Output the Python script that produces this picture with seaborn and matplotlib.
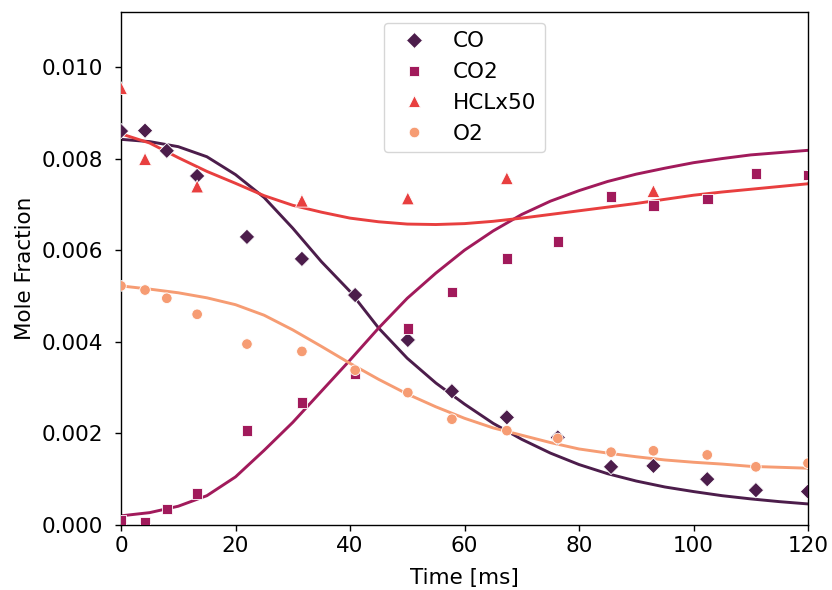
import matplotlib
matplotlib.use("Agg")
import matplotlib.pyplot as plt
import seaborn as sns
import pandas as pd
from matplotlib.ticker import FormatStrFormatter

# ---- measured data (markers) ----
t_meas = [0, 4.2, 8.0, 13.3, 22.0, 31.6, 40.9, 50.1, 57.8, 67.4, 76.3, 85.6, 93.0, 102.4, 110.9, 120.0]
co_meas = [0.00860, 0.00861, 0.00817, 0.00762, 0.00629, 0.00581, 0.00502, 0.00404, 0.00292,
           0.00235, 0.00191, 0.00127, 0.00129, 0.00100, 0.00076, 0.00073]
co2_meas = [0.00011, 0.00007, 0.00035, 0.00069, 0.00206, 0.00267, 0.00330, 0.00429, 0.00509,
            0.00582, 0.00619, 0.00717, 0.00697, 0.00712, 0.00768, 0.00764]
o2_meas = [0.00522, 0.00513, 0.00495, 0.00460, 0.00395, 0.00379, 0.00338, 0.00289, 0.00231,
           0.00206, 0.00189, 0.00159, 0.00162, 0.00153, 0.00127, 0.00135]
t_hcl = [0, 4.2, 13.3, 31.6, 50.1, 67.4, 93.0]
hcl_meas = [0.00954, 0.00799, 0.00739, 0.00708, 0.00713, 0.00757, 0.00729]

# ---- model curves (lines) ----
t_model = [0, 5, 10, 15, 20, 25, 30, 35, 40, 45, 50, 55, 60, 65, 70, 75, 80, 85, 90, 95,
           100, 105, 110, 115, 120]
co_model = [0.00842, 0.00837, 0.00826, 0.00804, 0.00765, 0.00715, 0.00648, 0.00575, 0.00510,
            0.00430, 0.00364, 0.00310, 0.00264, 0.00222, 0.00187, 0.00157, 0.00132, 0.00112,
            0.00096, 0.00083, 0.00073, 0.00064, 0.00057, 0.00051, 0.00046]
co2_model = [0.00020, 0.00027, 0.00041, 0.00064, 0.00105, 0.00163, 0.00224, 0.00292, 0.00360,
             0.00430, 0.00495, 0.00550, 0.00600, 0.00642, 0.00678, 0.00707, 0.00730, 0.00750,
             0.00766, 0.00779, 0.00791, 0.00800, 0.00808, 0.00813, 0.00818]
hcl_model = [0.00854, 0.00834, 0.00802, 0.00772, 0.00746, 0.00719, 0.00698, 0.00683, 0.00670,
             0.00662, 0.00657, 0.00656, 0.00658, 0.00663, 0.00670, 0.00678, 0.00686, 0.00694,
             0.00702, 0.00711, 0.00720, 0.00727, 0.00733, 0.00739, 0.00745]
o2_model = [0.00522, 0.00515, 0.00507, 0.00496, 0.00481, 0.00458, 0.00426, 0.00390, 0.00353,
            0.00318, 0.00286, 0.00258, 0.00233, 0.00212, 0.00196, 0.00180, 0.00166, 0.00157,
            0.00149, 0.00142, 0.00137, 0.00133, 0.00128, 0.00126, 0.00124]

species = ["CO", "CO2", "HCLx50", "O2"]
x_ticks = [0, 20, 40, 60, 80, 100, 120]
y_ticks = [0.000, 0.002, 0.004, 0.006, 0.008, 0.010]

meas = pd.concat([
    pd.DataFrame({"Time": t_meas, "Value": co_meas, "Species": "CO"}),
    pd.DataFrame({"Time": t_meas, "Value": co2_meas, "Species": "CO2"}),
    pd.DataFrame({"Time": t_hcl, "Value": hcl_meas, "Species": "HCLx50"}),
    pd.DataFrame({"Time": t_meas, "Value": o2_meas, "Species": "O2"}),
], ignore_index=True)
model = pd.concat([
    pd.DataFrame({"Time": t_model, "Value": v, "Species": s})
    for s, v in zip(species, [co_model, co2_model, hcl_model, o2_model])
], ignore_index=True)

plt.rcParams["font.family"] = ["DejaVu Sans"]
plt.rcParams["font.size"] = 15.5

palette = dict(zip(species, sns.color_palette("rocket", 4)))
marker_sizes = {"CO": 62, "CO2": 58, "HCLx50": 85, "O2": 58}

fig = plt.figure(figsize=(8.32, 5.9), dpi=100)
ax = fig.add_axes([121 / 832, 1 - 525 / 590, (808 - 121) / 832, (525 - 12) / 590])

sns.lineplot(data=model, x="Time", y="Value", hue="Species", hue_order=species,
             palette=palette, linewidth=2.1, legend=False, ax=ax)
sns.scatterplot(data=meas, x="Time", y="Value", hue="Species", style="Species",
                size="Species", sizes=marker_sizes, size_order=species,
                hue_order=species, style_order=species, palette=palette,
                markers=["D", "s", "^", "o"], linewidth=0.6, edgecolor="white",
                ax=ax, zorder=3)

ax.set_xlim(0, 120)
ax.set_ylim(0, 0.0112)
ax.set_xticks(x_ticks)
ax.set_yticks(y_ticks)
ax.yaxis.set_major_formatter(FormatStrFormatter("%.3f"))
ax.set_xlabel("Time [ms]", labelpad=8.5)
ax.set_ylabel("Mole Fraction", labelpad=5)
ax.tick_params(length=4.5, width=1.0, labelsize=15.5)
ax.tick_params(axis="y", pad=8.3)
for sp in ax.spines.values():
    sp.set_linewidth(1.0)

leg = ax.legend(loc="upper center", frameon=True, fontsize=15.5,
                borderpad=0.4, labelspacing=0.5)
leg.set_title(None)

fig.savefig("out.png", dpi=100)
